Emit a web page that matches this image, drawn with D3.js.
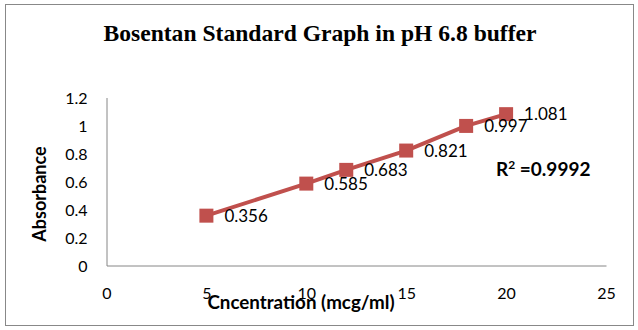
<!DOCTYPE html>
<html>
<head>
<meta charset="utf-8">
<script src="https://cdn.jsdelivr.net/npm/d3@7"></script>
<style>
  html, body { margin: 0; padding: 0; background: #fff; }
  svg { display: block; }
</style>
</head>
<body>
<div id="chart"></div>
<script>
// Bosentan calibration data: concentration (mcg/ml) vs absorbance
const concentration = [5, 10, 12, 15, 18, 20];
const absorbance = [0.356, 0.585, 0.683, 0.821, 0.997, 1.081];
const xTicks = [0, 5, 10, 15, 20, 25];
const yTicks = [0, 0.2, 0.4, 0.6, 0.8, 1, 1.2];
const titleText = "Bosentan Standard Graph in pH 6.8 buffer";
const xTitle = "Cncentration (mcg/ml)";
const yTitle = "Absorbance";
const rSquared = "0.9992";

const W = 638, H = 330;
const red = "#C0504D";
const axisGray = "#868686";
const sans = "Lato, 'Open Sans', sans-serif";

const svg = d3.select("#chart").append("svg")
  .attr("width", W).attr("height", H);

// outer chart frame
svg.append("rect")
  .attr("x", 5.5).attr("y", 4.5)
  .attr("width", 628).attr("height", 321)
  .attr("fill", "#fff").attr("stroke", "#888").attr("stroke-width", 1);

const x = d3.scaleLinear().domain([0, 25]).range([106.5, 606]);
const y = d3.scaleLinear().domain([0, 1.2]).range([265.5, 97.5]);

// title (condensed bold serif)
svg.append("text")
  .attr("x", 320).attr("y", 41)
  .attr("text-anchor", "middle")
  .attr("font-family", "'Liberation Serif', 'Times New Roman', serif")
  .attr("font-weight", "bold")
  .attr("font-size", 24)
  .attr("textLength", 433).attr("lengthAdjust", "spacingAndGlyphs")
  .text(titleText);

// axes
const xAxis = d3.axisBottom(x).tickValues(xTicks).tickSize(0).tickPadding(22)
  .tickFormat(d3.format("d"));
const yAxis = d3.axisLeft(y).tickValues(yTicks).tickSize(0).tickPadding(19)
  .tickFormat(d => d3.format("")(+d.toFixed(1)));

const gx = svg.append("g").attr("transform", `translate(0,${y(0)})`).call(xAxis);
const gy = svg.append("g").attr("transform", `translate(${x(0)},0)`).call(yAxis);

[gx, gy].forEach(g => {
  g.select(".domain").attr("stroke", axisGray).attr("stroke-width", 1);
  g.selectAll("text")
    .attr("font-family", sans)
    .attr("font-size", 16)
    .attr("fill", "#000");
});
gy.selectAll("text").attr("dy", "0.36em");

// series line
const line = d3.line()
  .x((d, i) => x(concentration[i]))
  .y(d => y(d));

svg.append("path")
  .datum(absorbance)
  .attr("d", line)
  .attr("fill", "none")
  .attr("stroke", red)
  .attr("stroke-width", 4)
  .attr("stroke-linejoin", "round");

// square markers
const ms = 14;
svg.selectAll("rect.marker")
  .data(absorbance)
  .join("rect")
  .attr("class", "marker")
  .attr("x", (d, i) => x(concentration[i]) - ms / 2)
  .attr("y", d => y(d) - ms / 2)
  .attr("width", ms).attr("height", ms)
  .attr("fill", red);

// value labels to the right of each point
svg.selectAll("text.vlabel")
  .data(absorbance)
  .join("text")
  .attr("class", "vlabel")
  .attr("x", (d, i) => x(concentration[i]) + 18)
  .attr("y", d => y(d))
  .attr("dy", "0.36em")
  .attr("font-family", sans)
  .attr("font-size", 17)
  .attr("fill", "#000")
  .text(d => d3.format(".3f")(d));

// R squared annotation
const r2 = svg.append("text")
  .attr("x", 496).attr("y", 176)
  .attr("font-family", sans)
  .attr("font-weight", "bold")
  .attr("font-size", 19)
  .attr("fill", "#000");
r2.append("tspan").text("R");
r2.append("tspan").attr("font-size", 12).attr("dy", -7).text("2");
r2.append("tspan").attr("dy", 7).text(" =" + rSquared);

// axis titles
svg.append("text")
  .attr("x", 301).attr("y", 309)
  .attr("text-anchor", "middle")
  .attr("font-family", sans)
  .attr("font-weight", "bold")
  .attr("font-size", 18.8)
  .attr("fill", "#000")
  .text(xTitle);

svg.append("text")
  .attr("transform", "translate(46,194) rotate(-90)")
  .attr("text-anchor", "middle")
  .attr("font-family", sans)
  .attr("font-weight", "bold")
  .attr("font-size", 18)
  .attr("fill", "#000")
  .text(yTitle);
</script>
</body>
</html>
